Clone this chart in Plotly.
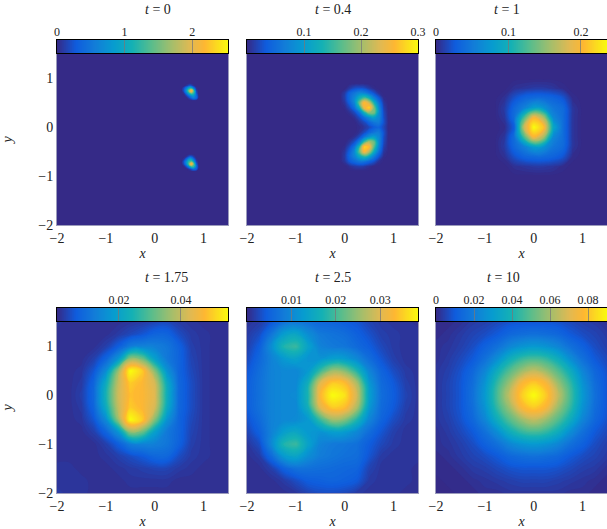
import numpy as np
import plotly.graph_objects as go

W, H = 607, 529
FONT = "Liberation Serif"

TIMES = ["0", "0.4", "1", "1.75", "2.5", "10"]
PEAKS = [2.53, 0.30, 0.236, 0.0552, 0.0385, 0.09]
CB_TICKS = [[0, 1, 2], [0.1, 0.2, 0.3], [0, 0.1, 0.2], [0.02, 0.04],
            [0.01, 0.02, 0.03], [0, 0.02, 0.04, 0.06, 0.08]]

PARULA = [[0, "rgb(53,42,135)"], [0.11, "rgb(15,92,221)"], [0.22, "rgb(18,125,216)"],
          [0.33, "rgb(7,156,207)"], [0.44, "rgb(21,177,180)"], [0.55, "rgb(89,189,140)"],
          [0.67, "rgb(165,190,107)"], [0.78, "rgb(225,185,82)"], [0.86, "rgb(254,183,50)"],
          [1, "rgb(249,251,14)"]]

# Values are read as percent of each panel's colour-bar maximum; rows run from the top of the panel down.
X0 = [-2, 0.55, 0.6, 0.65, 0.7, 0.75, 0.8, 0.85, 0.9, 1.5]
Y0 = [1.5, 0.9, 0.85, 0.8, 0.75, 0.7, 0.65, 0.6, 0.55, -0.55, -0.6, -0.65, -0.7, -0.75, -0.8, -0.85, -0.9, -2]
Z0 = [
    [0, 0, 0, 0, 0, 0, 0, 0, 0, 0],
    [0, 0, 0, 0, 0, 0, 0, 0, 0, 0],
    [0, 0, 0, 3, 8, 8, 2, 0, 0, 0],
    [0, 0, 8, 22, 40, 42, 18, 2, 0, 0],
    [0, 0, 10, 30, 62, 90, 50, 6, 0, 0],
    [0, 0, 3, 20, 42, 60, 48, 10, 0, 0],
    [0, 0, 0, 6, 18, 30, 32, 16, 0, 0],
    [0, 0, 0, 0, 5, 14, 22, 16, 0, 0],
    [0, 0, 0, 0, 0, 0, 0, 0, 0, 0],
    [0, 0, 0, 0, 0, 0, 0, 0, 0, 0],
    [0, 0, 0, 2, 8, 10, 4, 0, 0, 0],
    [0, 0, 3, 14, 30, 32, 14, 2, 0, 0],
    [0, 0, 10, 28, 48, 55, 32, 6, 0, 0],
    [0, 0, 8, 26, 55, 88, 55, 12, 0, 0],
    [0, 0, 1, 10, 28, 52, 50, 18, 0, 0],
    [0, 0, 0, 0, 4, 12, 20, 14, 0, 0],
    [0, 0, 0, 0, 0, 0, 0, 0, 0, 0],
    [0, 0, 0, 0, 0, 0, 0, 0, 0, 0],
]

X1 = [-2, -0.1, 0, 0.1, 0.2, 0.3, 0.4, 0.5, 0.6, 0.7, 0.8, 0.9, 1.5]
Y1 = [1.5, 0.9, 0.8, 0.7, 0.6, 0.5, 0.4, 0.3, 0.2, 0.1, 0, -0.1, -0.2, -0.3, -0.4, -0.5, -0.6, -0.7, -0.8, -0.9, -2]
Z1 = [
    [0, 0, 0, 0, 0, 0, 0, 0, 0, 0, 0, 0, 0],
    [0, 0, 0, 0, 0, 0, 0, 0, 0, 0, 0, 0, 0],
    [0, 0, 0, 4, 8, 9, 8, 4, 1, 0, 0, 0, 0],
    [0, 0, 4, 14, 20, 26, 24, 17, 9, 2, 0, 0, 0],
    [0, 0, 5, 16, 26, 42, 52, 42, 24, 11, 1, 0, 0],
    [0, 0, 3, 13, 25, 58, 88, 74, 44, 20, 3, 0, 0],
    [0, 0, 1, 7, 18, 40, 82, 92, 60, 26, 5, 0, 0],
    [0, 0, 0, 2, 7, 18, 42, 62, 60, 28, 7, 0, 0],
    [0, 0, 0, 0, 2, 8, 18, 28, 34, 26, 8, 0, 0],
    [0, 0, 0, 0, 0, 3, 7, 14, 20, 22, 9, 0, 0],
    [0, 0, 0, 0, 0, 1, 3, 7, 12, 14, 7, 0, 0],
    [0, 0, 0, 0, 0, 2, 7, 14, 19, 22, 9, 0, 0],
    [0, 0, 0, 0, 2, 8, 19, 30, 34, 26, 8, 0, 0],
    [0, 0, 0, 3, 9, 23, 50, 68, 58, 26, 7, 0, 0],
    [0, 0, 1, 8, 19, 46, 92, 86, 54, 24, 5, 0, 0],
    [0, 0, 3, 13, 26, 56, 84, 68, 40, 18, 3, 0, 0],
    [0, 0, 4, 15, 24, 38, 46, 37, 22, 10, 1, 0, 0],
    [0, 0, 3, 11, 16, 20, 19, 14, 9, 2, 0, 0, 0],
    [0, 0, 0, 2, 4, 5, 4, 2, 0, 0, 0, 0, 0],
    [0, 0, 0, 0, 0, 0, 0, 0, 0, 0, 0, 0, 0],
    [0, 0, 0, 0, 0, 0, 0, 0, 0, 0, 0, 0, 0],
]

X2 = [-2, -1, -0.8, -0.6, -0.4, -0.2, 0, 0.2, 0.4, 0.6, 0.8, 1, 1.5]
Y2 = [1.5, 1, 0.8, 0.6, 0.4, 0.2, 0, -0.2, -0.4, -0.6, -0.8, -1, -2]
Z2 = [
    [0, 0, 0, 0, 0, 0, 0, 0, 0, 0, 0, 0, 0],
    [0, 0, 0, 0, 0, 0, 0, 0, 0, 0, 0, 0, 0],
    [0, 0, 0, 0, 2, 3, 4, 4, 3, 1, 0, 0, 0],
    [0, 0, 0, 2, 9, 14, 16, 16, 14, 10, 1, 0, 0],
    [0, 0, 0, 4, 15, 23, 34, 30, 20, 16, 3, 0, 0],
    [0, 0, 0, 3, 17, 52, 84, 68, 26, 17, 3, 0, 0],
    [0, 0, 0, 1, 12, 72, 100, 88, 38, 17, 3, 0, 0],
    [0, 0, 0, 3, 17, 52, 84, 68, 26, 17, 3, 0, 0],
    [0, 0, 0, 4, 15, 23, 34, 30, 20, 16, 3, 0, 0],
    [0, 0, 0, 2, 9, 14, 16, 16, 14, 10, 1, 0, 0],
    [0, 0, 0, 0, 2, 3, 4, 4, 3, 1, 0, 0, 0],
    [0, 0, 0, 0, 0, 0, 0, 0, 0, 0, 0, 0, 0],
    [0, 0, 0, 0, 0, 0, 0, 0, 0, 0, 0, 0, 0],
]

X3 = [-2, -1.75, -1.5, -1.25, -1, -0.75, -0.5, -0.25, 0, 0.25, 0.5, 0.75, 1, 1.25, 1.5]
Y3 = [1.5, 1.25, 1, 0.75, 0.5, 0.25, 0, -0.25, -0.5, -0.75, -1, -1.25, -1.5, -1.75, -2]
Z3 = [
    [3, 2, 2, 2, 2, 2, 3, 4, 6, 7, 4, 3, 2, 2, 2],
    [2, 2, 2, 2, 2, 4, 7, 10, 14, 14, 8, 4, 3, 2, 2],
    [2, 2, 2, 2, 5, 12, 22, 24, 23, 20, 13, 5, 3, 2, 2],
    [2, 2, 2, 5, 14, 30, 64, 58, 35, 21, 14, 6, 3, 2, 2],
    [2, 2, 3, 10, 27, 64, 100, 90, 62, 30, 14, 7, 3, 2, 2],
    [2, 2, 4, 14, 40, 72, 90, 85, 76, 40, 15, 8, 3, 2, 2],
    [2, 2, 5, 15, 44, 74, 87, 85, 78, 42, 15, 8, 3, 2, 2],
    [2, 2, 4, 14, 40, 72, 90, 85, 76, 40, 15, 8, 3, 2, 2],
    [2, 2, 3, 10, 27, 64, 100, 90, 62, 30, 14, 7, 3, 2, 2],
    [2, 2, 2, 5, 14, 30, 64, 58, 35, 21, 14, 6, 3, 2, 2],
    [2, 2, 2, 2, 5, 12, 22, 24, 23, 20, 13, 5, 3, 2, 2],
    [2, 2, 2, 2, 3, 5, 8, 11, 15, 15, 8, 4, 3, 2, 2],
    [3, 3, 2, 2, 2, 3, 4, 5, 6, 6, 4, 3, 2, 2, 2],
    [3, 3, 3, 2, 2, 2, 3, 3, 3, 3, 2, 2, 2, 2, 2],
    [4, 3, 3, 2, 2, 2, 2, 2, 2, 2, 2, 2, 2, 2, 2],
]

X4 = X3
Y4 = Y3
Z4 = [
    [3, 4, 10, 18, 20, 18, 15, 14, 12, 10, 6, 4, 3, 3, 2],
    [4, 8, 20, 34, 38, 28, 21, 19, 17, 13, 9, 5, 4, 3, 3],
    [5, 12, 28, 46, 50, 36, 24, 21, 20, 16, 12, 7, 4, 3, 3],
    [7, 15, 24, 32, 36, 30, 30, 34, 33, 26, 17, 10, 5, 3, 3],
    [10, 17, 24, 26, 26, 32, 50, 66, 62, 46, 25, 14, 8, 4, 3],
    [12, 18, 24, 26, 26, 42, 78, 90, 87, 68, 32, 16, 11, 5, 3],
    [12, 18, 24, 26, 27, 45, 85, 100, 95, 75, 35, 17, 12, 6, 3],
    [12, 18, 24, 26, 26, 42, 78, 90, 87, 68, 32, 16, 11, 5, 3],
    [9, 16, 24, 26, 27, 32, 50, 66, 62, 46, 25, 14, 8, 4, 3],
    [6, 13, 24, 34, 38, 32, 30, 34, 33, 26, 17, 10, 5, 3, 3],
    [3, 8, 26, 46, 50, 36, 24, 21, 20, 18, 12, 7, 4, 3, 3],
    [2, 4, 16, 32, 37, 28, 22, 20, 18, 17, 10, 4, 3, 3, 3],
    [2, 2, 5, 13, 18, 18, 17, 16, 15, 14, 6, 3, 3, 3, 2],
    [2, 2, 2, 4, 8, 12, 13, 14, 13, 11, 4, 3, 3, 3, 2],
    [2, 2, 2, 2, 3, 6, 8, 8, 7, 4, 3, 3, 3, 2, 2],
]

X5 = X3
Y5 = Y3
Z5 = [
    [1, 1, 2, 4, 5, 7, 9, 10, 10, 10, 9, 7, 5, 4, 2],
    [1, 2, 4, 6, 8, 11, 15, 17, 18, 17, 15, 11, 8, 6, 4],
    [2, 3, 5, 8, 13, 18, 25, 30, 32, 30, 25, 18, 13, 8, 5],
    [2, 4, 7, 11, 18, 28, 41, 49, 52, 49, 41, 28, 18, 11, 7],
    [3, 5, 9, 15, 25, 41, 54, 65, 72, 65, 54, 41, 25, 15, 9],
    [3, 6, 10, 17, 30, 49, 65, 84, 90, 84, 65, 49, 30, 17, 10],
    [3, 6, 10, 18, 32, 52, 72, 90, 100, 90, 72, 52, 32, 18, 10],
    [3, 6, 10, 17, 30, 49, 65, 84, 90, 84, 65, 49, 30, 17, 10],
    [3, 5, 9, 15, 25, 41, 54, 65, 72, 65, 54, 41, 25, 15, 9],
    [2, 4, 7, 11, 18, 28, 41, 49, 52, 49, 41, 28, 18, 11, 7],
    [2, 3, 5, 8, 13, 18, 25, 30, 32, 30, 25, 18, 13, 8, 5],
    [1, 2, 4, 6, 8, 11, 15, 17, 18, 17, 15, 11, 8, 6, 4],
    [1, 1, 2, 4, 5, 7, 9, 10, 10, 10, 9, 7, 5, 4, 2],
    [0, 1, 1, 2, 3, 4, 5, 6, 6, 6, 5, 4, 3, 2, 1],
    [0, 0, 1, 1, 2, 2, 3, 3, 3, 3, 3, 2, 2, 1, 1],
]

GRIDS = [(X0, Y0, Z0), (X1, Y1, Z1), (X2, Y2, Z2), (X3, Y3, Z3), (X4, Y4, Z4), (X5, Y5, Z5)]

# pixel layout of the panels
LEFT = [57, 247, 436]
TOP = [54, 322]
SIZE_W = 171
SIZE_H = 171
CB_H = 13
TEXT = "#222"

fig = go.Figure()
layout = {}
for k in range(6):
    col, row = k % 3, k // 3
    l, t = LEFT[col], TOP[row]
    xs, ys, pct = GRIDS[k]
    peak = PEAKS[k]
    z = (np.array(pct[::-1], dtype=float) / 100.0 * peak).tolist()
    sfx = "" if k == 0 else str(k + 1)
    fig.add_trace(go.Contour(
        x=xs, y=ys[::-1], z=z, zmin=0, zmax=peak, colorscale=PARULA, showscale=False,
        contours=dict(coloring="fill", showlines=False, start=peak / 200, end=peak, size=peak / 100),
        line=dict(width=0, smoothing=1.3),
        xaxis="x" + sfx, yaxis="y" + sfx, hoverinfo="skip",
    ))
    common = dict(range=[-2, 1.5], tickvals=[-2, -1, 0, 1], ticks="", showgrid=False, zeroline=False,
                  showline=True, linecolor="rgba(130,130,170,0.8)", linewidth=1, mirror=True,
                  tickfont=dict(family=FONT, size=14, color=TEXT))
    layout["xaxis" + sfx] = dict(
        common, domain=[l / W, min(1, (l + SIZE_W) / W)], anchor="y" + sfx,
        title=dict(text="<i>x</i>", font=dict(family=FONT, size=14, color=TEXT), standoff=3),
    )
    yax = dict(common, domain=[1 - (t + SIZE_H) / H, 1 - t / H], anchor="x" + sfx)
    if col == 0:
        yax["title"] = dict(text="<i>y</i>", font=dict(family=FONT, size=14, color=TEXT), standoff=24)
    else:
        yax["showticklabels"] = False
    layout["yaxis" + sfx] = yax

    # colour bar: its own pair of axes above the panel
    levels = np.linspace(0, peak, 256).tolist()
    cx, cy = str(k + 7), str(k + 7)
    fig.add_trace(go.Heatmap(
        x=levels, y=[0, 1], z=[levels, levels], zmin=0, zmax=peak, zsmooth="best",
        colorscale=PARULA, showscale=False, xaxis="x" + cx, yaxis="y" + cy, hoverinfo="skip",
    ))
    layout["xaxis" + cx] = dict(
        domain=[l / W, min(1, (l + SIZE_W) / W)], anchor="y" + cy, side="top", range=[0, peak],
        tickmode="array", tickvals=CB_TICKS[k], ticktext=[str(v) for v in CB_TICKS[k]],
        ticks="inside", ticklen=CB_H, tickcolor="rgba(120,120,120,0.75)", tickwidth=1,
        showgrid=False, zeroline=False, showline=True, linecolor="black", linewidth=1, mirror=True,
        tickfont=dict(family=FONT, size=12, color=TEXT), ticklabelstandoff=-2,
    )
    layout["yaxis" + cy] = dict(
        domain=[1 - (t - 1) / H, 1 - (t - 1 - CB_H) / H], anchor="x" + cx, range=[0, 1],
        showticklabels=False, ticks="", showgrid=False, zeroline=False,
        showline=True, linecolor="black", linewidth=1, mirror=True,
    )

annotations = []
for k, tval in enumerate(TIMES):
    col, row = k % 3, k // 3
    annotations.append(dict(
        text=f"<i>t</i> = {tval}", xref="paper", yref="paper", showarrow=False,
        x=(LEFT[col] + SIZE_W / 2) / W, y=1 - (TOP[row] - 45) / H, yanchor="middle",
        font=dict(family=FONT, size=14, color=TEXT),
    ))

fig.update_layout(
    width=W, height=H, autosize=False, paper_bgcolor="white", plot_bgcolor="white",
    margin=dict(l=0, r=0, t=0, b=0, pad=0, autoexpand=False),
    annotations=annotations, showlegend=False, **layout,
)
fig.write_html("out.html", config={"displayModeBar": False}, default_width=W, default_height=H,
               post_script="document.body.style.margin='0';")
